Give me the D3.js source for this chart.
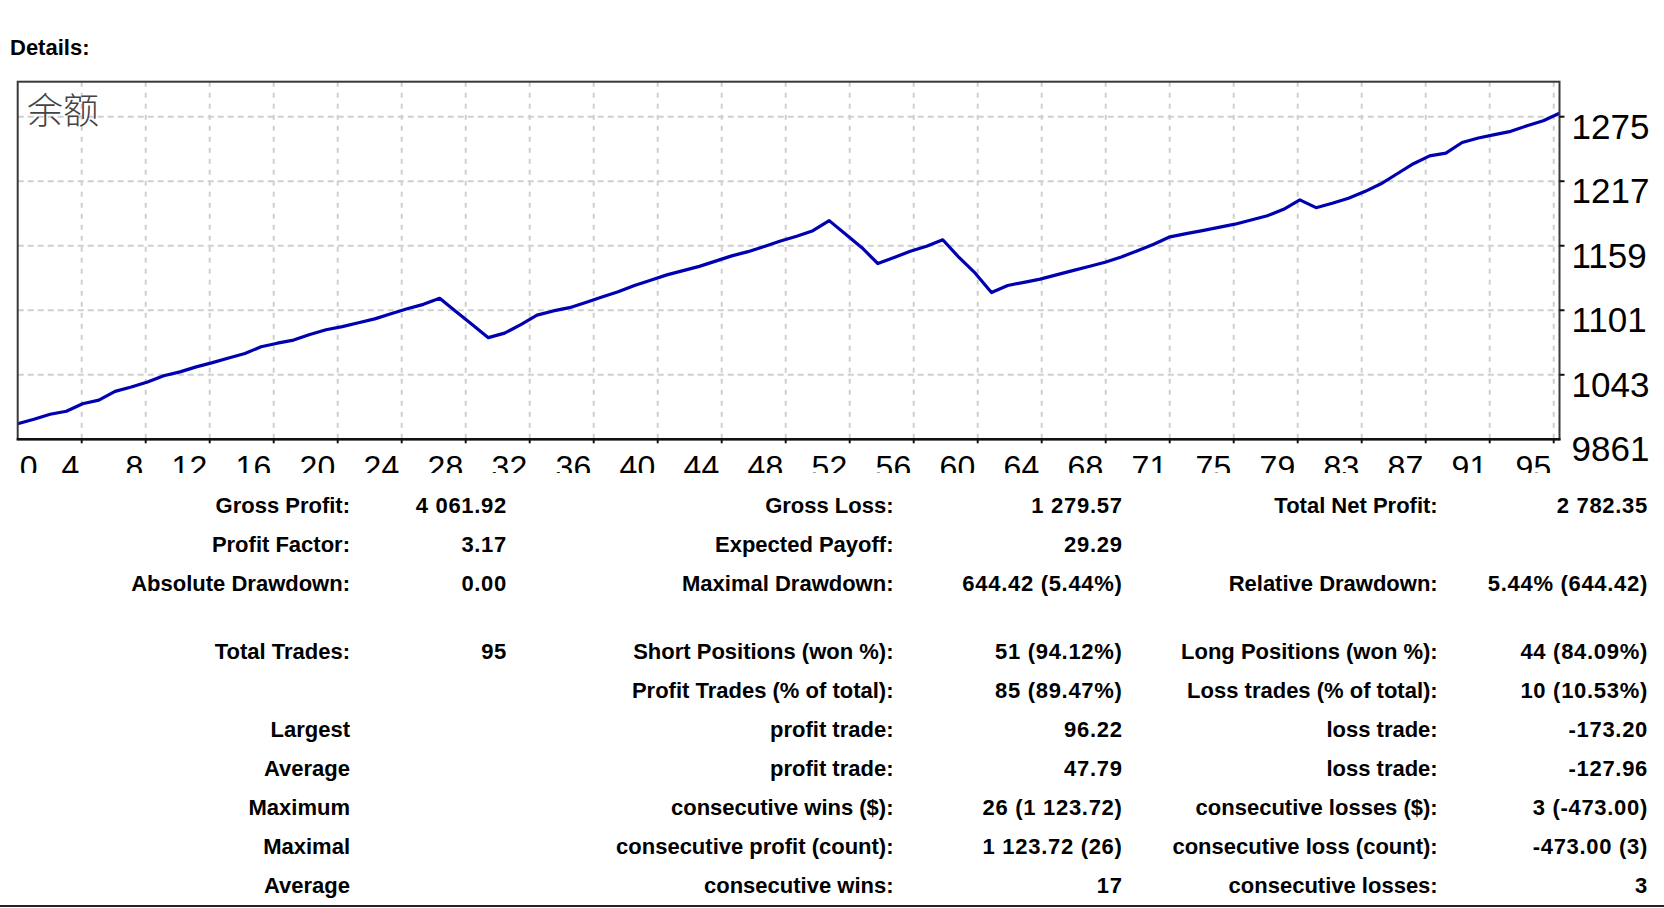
<!DOCTYPE html>
<html>
<head>
<meta charset="utf-8">
<script src="https://cdn.jsdelivr.net/npm/d3@7"></script>
<style>
  body { margin: 0; background: #fff; overflow: hidden; }
  svg { display: block; }
  text { font-family: "Liberation Sans", Arial, sans-serif; fill: #000; }
</style>
</head>
<body>
<svg id="chart" width="1664" height="908"></svg>
<script>
// balance after each trade (trade 0 = initial deposit)
const balance = [
  10000, 10040, 10085, 10112, 10180, 10212, 10290, 10330, 10375, 10430,
  10465, 10510, 10548, 10590, 10630, 10690, 10722, 10750, 10800, 10842,
  10870, 10905, 10940, 10985, 11030, 11070, 11123.72, 11005, 10890, 10771.55,
  10812, 10888, 10973, 11011, 11040, 11087, 11135, 11182, 11239, 11286,
  11334, 11372, 11410, 11457, 11504, 11542, 11589, 11637, 11680, 11730,
  11820, 11700, 11580, 11435.6, 11490, 11545, 11590, 11648.58, 11490, 11348.78,
  11175.58, 11239, 11267, 11296, 11334, 11372, 11409, 11447, 11495, 11551,
  11608, 11675, 11703, 11731, 11760, 11788, 11826, 11864, 11921, 12006,
  11936, 11975, 12020, 12080, 12150, 12240, 12330, 12400, 12425, 12520,
  12560, 12590, 12620, 12670, 12715, 12782.35
];

const yTickValues = [9861, 10439, 11017, 11595, 12173, 12751];
const yTickLabels = ['9861', '1043', '1101', '1159', '1217', '1275'];
const xTickLabels = ['0', '4', '8', '12', '16', '20', '24', '28', '32', '36', '40', '44',
  '48', '52', '56', '60', '64', '68', '71', '75', '79', '83', '87', '91', '95'];

const seriesName = '余额';

// report table: label / value pairs, three columns
const statRows = [
  ['Gross Profit:', '4 061.92', 'Gross Loss:', '1 279.57', 'Total Net Profit:', '2 782.35'],
  ['Profit Factor:', '3.17', 'Expected Payoff:', '29.29', '', ''],
  ['Absolute Drawdown:', '0.00', 'Maximal Drawdown:', '644.42 (5.44%)', 'Relative Drawdown:', '5.44% (644.42)'],
  ['Total Trades:', '95', 'Short Positions (won %):', '51 (94.12%)', 'Long Positions (won %):', '44 (84.09%)'],
  ['', '', 'Profit Trades (% of total):', '85 (89.47%)', 'Loss trades (% of total):', '10 (10.53%)'],
  ['Largest', '', 'profit trade:', '96.22', 'loss trade:', '-173.20'],
  ['Average', '', 'profit trade:', '47.79', 'loss trade:', '-127.96'],
  ['Maximum', '', 'consecutive wins ($):', '26 (1 123.72)', 'consecutive losses ($):', '3 (-473.00)'],
  ['Maximal', '', 'consecutive profit (count):', '1 123.72 (26)', 'consecutive loss (count):', '-473.00 (3)'],
  ['Average', '', 'consecutive wins:', '17', 'consecutive losses:', '3']
];

const svg = d3.select('#chart');

const plotLeft = 17.7, plotRight = 1559.5, plotTop = 81.7, plotBottom = 439.3;
const x = d3.scaleLinear().domain([0, balance.length - 1]).range([plotLeft, plotRight]);
const y = d3.scaleLinear().domain([9861, 13064.5]).range([plotBottom, plotTop]);

// grid cells are 64px wide, expressed in trades
const gridStep = 64 / (x(1) - x(0));
const xTicks = xTickLabels.map((label, k) => ({ label, pos: k * gridStep }));

svg.append('text')
  .attr('x', 10).attr('y', 55)
  .attr('font-size', 22).attr('font-weight', 'bold')
  .text('Details:');

// Grid
svg.append('g').selectAll('line')
  .data(yTickValues.slice(1))
  .join('line')
  .attr('x1', plotLeft).attr('x2', plotRight)
  .attr('y1', d => y(d)).attr('y2', d => y(d))
  .attr('stroke', '#cfcfcf').attr('stroke-width', 2)
  .attr('stroke-dasharray', '6,4');

svg.append('g').selectAll('line')
  .data(xTicks.slice(1))
  .join('line')
  .attr('x1', d => x(d.pos)).attr('x2', d => x(d.pos))
  .attr('y1', plotTop).attr('y2', plotBottom)
  .attr('stroke', '#cfcfcf').attr('stroke-width', 2)
  .attr('stroke-dasharray', '5,6');

svg.append('text')
  .attr('x', 27).attr('y', 124)
  .attr('font-size', 36).attr('font-weight', 300)
  .style('font-family', '"Noto Sans CJK SC", sans-serif')
  .style('fill', '#444')
  .text(seriesName);

// Balance line
const line = d3.line().x((d, i) => x(i)).y(d => y(d));
svg.append('path')
  .datum(balance)
  .attr('d', line)
  .attr('fill', 'none')
  .attr('stroke', '#0000b0')
  .attr('stroke-width', 3.2)
  .attr('stroke-linejoin', 'round');

// Frame
svg.append('rect')
  .attr('x', plotLeft).attr('y', plotTop)
  .attr('width', plotRight - plotLeft).attr('height', plotBottom - plotTop)
  .attr('fill', 'none').attr('stroke', '#3a3a3a').attr('stroke-width', 2);
svg.append('line')
  .attr('x1', plotLeft - 1).attr('x2', plotRight + 1)
  .attr('y1', plotBottom).attr('y2', plotBottom)
  .attr('stroke', '#111').attr('stroke-width', 2.5);

// Tick marks
svg.append('g').selectAll('line')
  .data(xTicks.slice(1))
  .join('line')
  .attr('x1', d => x(d.pos)).attr('x2', d => x(d.pos))
  .attr('y1', plotBottom).attr('y2', plotBottom + 4)
  .attr('stroke', '#111').attr('stroke-width', 2);

svg.append('g').selectAll('line')
  .data(yTickValues.slice(1))
  .join('line')
  .attr('x1', plotRight).attr('x2', plotRight + 5)
  .attr('y1', d => y(d)).attr('y2', d => y(d))
  .attr('stroke', '#111').attr('stroke-width', 2);

// Y labels
svg.append('g').selectAll('text')
  .data(yTickValues)
  .join('text')
  .attr('x', plotRight + 12)
  .attr('y', d => y(d) + 22)
  .attr('font-size', 35)
  .text((d, i) => yTickLabels[i]);

// X labels, cut off at the bottom like the report image
svg.append('defs').append('clipPath').attr('id', 'xclip')
  .append('rect')
  .attr('x', 0).attr('y', plotBottom + 2)
  .attr('width', 1664).attr('height', 473 - plotBottom - 2);

svg.append('g').attr('clip-path', 'url(#xclip)')
  .selectAll('text')
  .data(xTicks)
  .join('text')
  .attr('x', d => d.pos === 0 ? plotLeft + 2 : x(d.pos) - 2.5)
  .attr('text-anchor', d => d.pos === 0 ? 'start' : 'end')
  .attr('y', 478)
  .attr('font-size', 32)
  .text(d => d.label);

// Stats table
const colRight = [350, 507, 893.5, 1122.6, 1437.7, 1648];
const rowY = i => (i < 3 ? 513 + i * 39 : 658.5 + (i - 3) * 39);

const rows = svg.append('g')
  .selectAll('g')
  .data(statRows)
  .join('g')
  .attr('transform', (d, i) => `translate(0,${rowY(i)})`);

rows.selectAll('text')
  .data(d => d)
  .join('text')
  .attr('x', (d, j) => colRight[j])
  .attr('text-anchor', 'end')
  .attr('font-size', 22)
  .attr('font-weight', 'bold')
  .attr('letter-spacing', (d, j) => j % 2 ? 0.7 : 0)
  .text(d => d);

svg.append('line')
  .attr('x1', 0).attr('x2', 1664)
  .attr('y1', 906).attr('y2', 906)
  .attr('stroke', '#222').attr('stroke-width', 2);
</script>
</body>
</html>
